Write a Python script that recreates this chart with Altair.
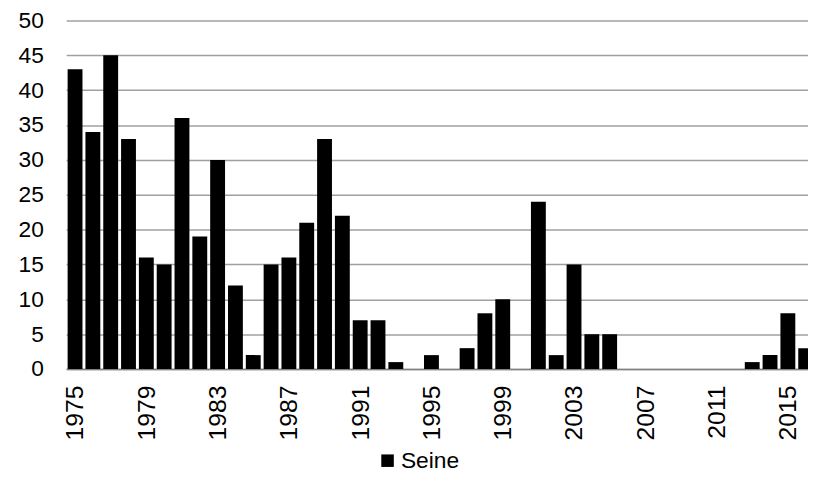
import altair as alt
import pandas as pd

years = list(range(1975, 2017))
values = [43, 34, 45, 33, 16, 15, 36, 19, 30, 12,
          2, 15, 16, 21, 33, 22, 7, 7, 1, 0,
          2, 0, 3, 8, 10, 0, 24, 2, 15, 5,
          5, 0, 0, 0, 0, 0, 0, 0, 1, 2,
          8, 3]
series = ["Seine"] * len(years)
tick_years = [1975, 1979, 1983, 1987, 1991, 1995, 1999, 2003, 2007, 2011, 2015]
y_ticks = [0, 5, 10, 15, 20, 25, 30, 35, 40, 45, 50]

df = pd.DataFrame({"year": years, "value": values, "series": series})

FONT = "Liberation Sans"

chart = alt.Chart(df).transform_calculate(
    x0="datum.year - 0.417",
    x1="datum.year + 0.417",
).mark_rect(clip=True).encode(
    x=alt.X("x0:Q",
            scale=alt.Scale(domain=[1974.5, 2016.13], nice=False, zero=False),
            axis=alt.Axis(values=tick_years, format="d", labelAngle=-90,
                          labelAlign="right", labelBaseline="middle",
                          labelPadding=16, ticks=False, grid=False,
                          domain=True, domainColor="#808080", domainWidth=1.5,
                          labelFontSize=25, labelFont=FONT, labelColor="#000000",
                          title=None, labelOverlap=False)),
    x2="x1:Q",
    y=alt.Y("value:Q",
            scale=alt.Scale(domain=[0, 50], nice=False),
            axis=alt.Axis(values=y_ticks, grid=True, gridColor="#a0a0a0",
                          gridWidth=1.5, ticks=False, domain=False,
                          labelPadding=23, labelFontSize=23, labelFont=FONT,
                          labelColor="#000000", title=None)),
    y2=alt.datum(0),
    color=alt.Color("series:N",
                    scale=alt.Scale(range=["#000000"]),
                    legend=alt.Legend(title=None, orient="none",
                                      legendX=313, legendY=433,
                                      symbolType="square", symbolSize=160,
                                      symbolStrokeWidth=0,
                                      labelFontSize=23, labelFont=FONT,
                                      labelColor="#000000", labelOffset=2)),
).properties(
    width=749,
    height=352,
    autosize=alt.AutoSizeParams(type="none"),
    padding={"left": 58.7, "top": 10.3, "right": 0, "bottom": 104},
).configure_view(stroke=None)

chart.save("out.html", embed_options={"renderer": "svg", "actions": False})
